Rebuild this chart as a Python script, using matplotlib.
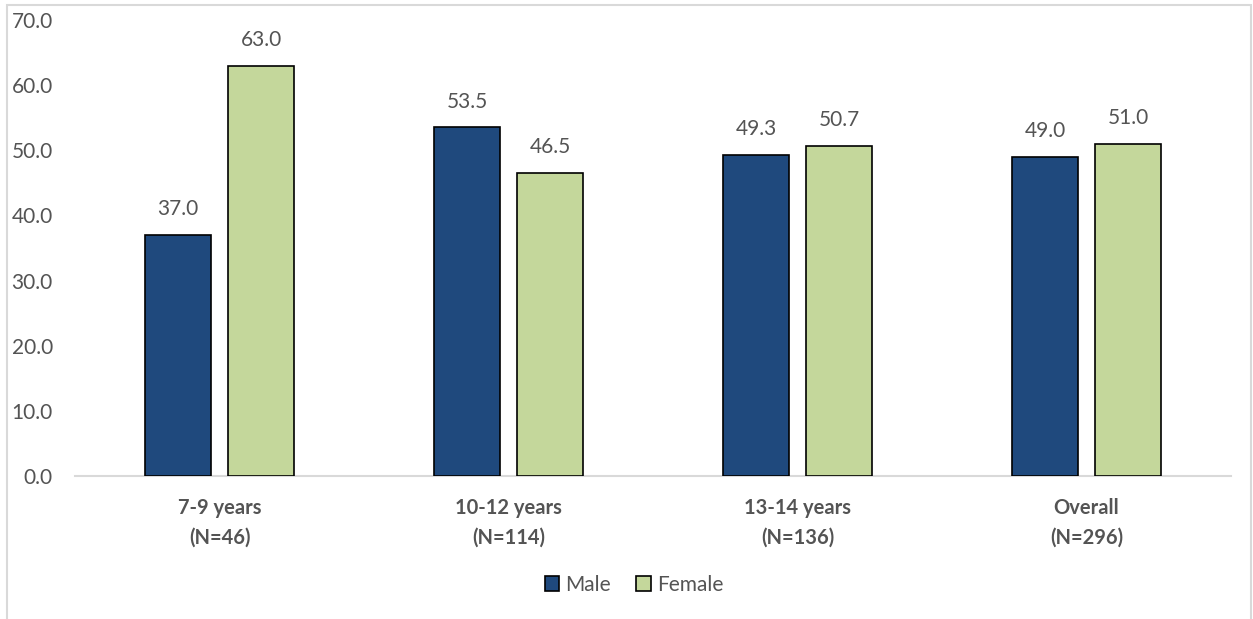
import matplotlib
matplotlib.use("Agg")
import matplotlib.pyplot as plt
from matplotlib.patches import Patch, Rectangle
import numpy as np

plt.rcParams['font.family'] = ['Lato', 'DejaVu Sans']

categories = ["7-9 years\n(N=46)", "10-12 years\n(N=114)", "13-14 years\n(N=136)", "Overall\n(N=296)"]
series_names = ["Male", "Female"]
male = [37.0, 53.5, 49.3, 49.0]
female = [63.0, 46.5, 50.7, 51.0]
yticks = [0, 10, 20, 30, 40, 50, 60, 70]

male_color = "#1F497D"
female_color = "#C4D79B"
text_color = "#545454"

W, H = 1253, 619
fig = plt.figure(figsize=(W / 100, H / 100), dpi=100)

# outer chart-area frame
fig.patches.append(Rectangle((7 / W, -0.01), (1251 - 7) / W, (H - 5) / H + 0.01,
                             transform=fig.transFigure, fill=False,
                             edgecolor="#D9D9D9", linewidth=1.5))

ax = fig.add_axes([75 / W, (H - 476) / H, (1231 - 75) / W, (476 - 20) / H])

x = np.arange(len(categories))
bw = 0.228
off = 0.1436
b1 = ax.bar(x - off, male, width=bw, color=male_color, edgecolor="black", linewidth=1.2,
            label=series_names[0], zorder=3)
b2 = ax.bar(x + off, female, width=bw, color=female_color, edgecolor="black", linewidth=1.2,
            label=series_names[1], zorder=3)

for bars, vals in ((b1, male), (b2, female)):
    for rect, v in zip(bars, vals):
        ax.annotate(f"{v:.1f}", (rect.get_x() + rect.get_width() / 2, v),
                    xytext=(0, 18.5), textcoords="offset points",
                    ha="center", va="center", fontsize=15, color=text_color)

ax.set_xlim(-0.5, len(categories) - 0.5)
ax.set_ylim(0, 70)
ax.set_yticks(yticks)
ax.set_yticklabels([f"{t:.1f}" for t in yticks], fontsize=15, color=text_color)
ax.set_xticks(x)
ax.set_xticklabels(categories, fontsize=14.5, fontweight="bold", color=text_color, linespacing=1.6)
ax.tick_params(axis="y", length=0, pad=16)
ax.tick_params(axis="x", length=0, pad=16)

for s in ("top", "right", "left"):
    ax.spines[s].set_visible(False)
ax.spines["bottom"].set_color("#D9D9D9")
ax.spines["bottom"].set_linewidth(1.5)

handles = [Patch(facecolor=male_color, edgecolor="black", linewidth=1.2, label=series_names[0]),
           Patch(facecolor=female_color, edgecolor="black", linewidth=1.2, label=series_names[1])]
fig.legend(handles=handles, loc="center", bbox_to_anchor=(634 / W, (H - 585) / H),
           ncol=2, frameon=False, fontsize=15, handlelength=0.7, handleheight=0.7,
           handletextpad=0.3, columnspacing=1.2, labelcolor=text_color)

fig.savefig("out.png", dpi=100)
